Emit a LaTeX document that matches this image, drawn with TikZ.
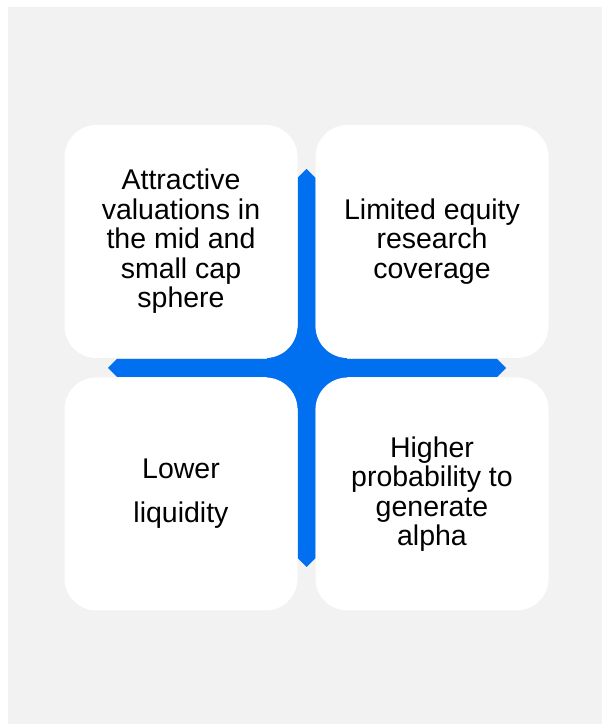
\documentclass[tikz,border=0pt]{standalone}
\usepackage{fontspec}
\setmainfont{Liberation Sans}
\usepackage{tikz}
\definecolor{crossblue}{RGB}{0,112,240}
\definecolor{backgray}{RGB}{242,242,242}
\tikzstyle{quadrant}=[rectangle, fill=white, rounded corners=32pt, minimum width=233pt, minimum height=233pt, align=center, inner sep=0pt, font=\fontsize{28.5}{29.5}\selectfont]

\begin{document}
\begin{tikzpicture}[x=1pt, y=1pt]
                    \useasboundingbox (0, 0) rectangle (602, 724);
                    \fill[backgray] (8, 0) rectangle (602, 717);
                    \coordinate (0) at (306.5, 356);
                    \fill[crossblue] (0) ++(-198.5, 0) -- ++(9, 9) -- ++(180.5, 0) -- ++(0, 181) -- ++(9, 9) -- ++(9, -9)
                        -- ++(0, -181) -- ++(181.5, 0) -- ++(9, -9) -- ++(-9, -9) -- ++(-181.5, 0) -- ++(0, -181)
                        -- ++(-9, -9) -- ++(-9, 9) -- ++(0, 181) -- ++(-180.5, 0) -- cycle;
                    \fill[crossblue] (0) ++(-40, -40) rectangle ++(80, 80);
                    \node[quadrant] (11) at (181, 482.5) {Attractive\\valuations in\\the mid and\\small cap\\sphere};
                    \node[quadrant] (12) at (432, 482.5) {Limited equity\\research\\coverage};
                    \node[quadrant] (21) at (181, 230) {Lower\\[14.5pt]liquidity};
                    \node[quadrant] (22) at (432, 230) {Higher\\probability to\\generate\\alpha};
                \end{tikzpicture}
\end{document}
